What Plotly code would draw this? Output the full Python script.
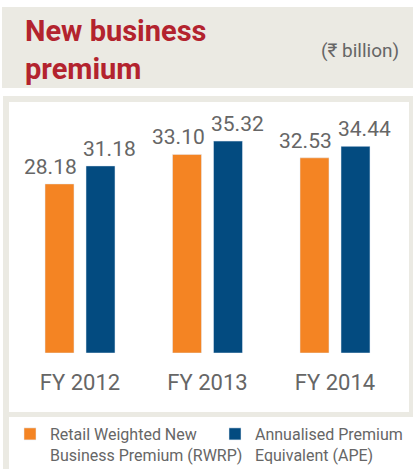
import plotly.graph_objects as go

# data
years = ["FY 2012", "FY 2013", "FY 2014"]
rwrp = [28.18, 33.10, 32.53]
ape = [31.18, 35.32, 34.44]
rwrp_name = "Retail Weighted New<br>Business Premium (RWRP)"
ape_name = "Annualised Premium<br>Equivalent (APE)"

W, H = 413, 469
FONT = "Roboto, sans-serif"
GREY_TXT = "#666666"
BAND = "#EBEAE3"

def px_x(p):
    return p / W

def px_y(p):
    return 1 - p / H

fig = go.Figure()
fig.add_trace(go.Bar(x=years, y=rwrp, name=rwrp_name, marker_color="#F48423"))
fig.add_trace(go.Bar(x=years, y=ape, name=ape_name, marker_color="#034B80"))

# value labels, pushed outward from group centre
for i, yr in enumerate(years):
    for val, shift in ((rwrp[i], -29.5), (ape[i], 29.5)):
        fig.add_annotation(x=yr, y=val, xref="x", yref="y", text=f"{val:.2f}",
                           showarrow=False, xshift=shift, yshift=3, yanchor="bottom",
                           font=dict(family=FONT, size=21, color=GREY_TXT))

# background panels
shapes = [
    dict(type="rect", xref="paper", yref="paper", x0=px_x(2), x1=1, y0=px_y(88), y1=px_y(7),
         fillcolor=BAND, line_width=0, layer="below"),
    dict(type="rect", xref="paper", yref="paper", x0=px_x(3), x1=1, y0=0, y1=px_y(96),
         fillcolor=BAND, line_width=0, layer="below"),
    dict(type="rect", xref="paper", yref="paper", x0=px_x(9), x1=px_x(409), y0=px_y(412), y1=px_y(102),
         fillcolor="white", line_width=0, layer="below"),
    dict(type="rect", xref="paper", yref="paper", x0=px_x(9), x1=1, y0=0, y1=px_y(417),
         fillcolor="white", line_width=0, layer="below"),
]

fig.add_annotation(x=px_x(23), y=px_y(12), xref="paper", yref="paper", xanchor="left", yanchor="top",
                   text="<b>New business<br>premium</b>", showarrow=False, align="left",
                   font=dict(family=FONT, size=29, color="#B3232E"))
fig.add_annotation(x=px_x(401), y=px_y(50), xref="paper", yref="paper", xanchor="right", yanchor="middle",
                   text="(₹ billion)", showarrow=False,
                   font=dict(family=FONT, size=19, color=GREY_TXT))

fig.update_layout(
    width=W, height=H,
    margin=dict(l=0, r=0, t=0, b=0, autoexpand=False),
    paper_bgcolor="white", plot_bgcolor="rgba(0,0,0,0)",
    barmode="group", bargap=0.357, bargroupgap=0.293,
    shapes=shapes,
    xaxis=dict(domain=[px_x(16.25), px_x(398.75)], showgrid=False, showline=False, zeroline=False,
               ticks="outside", ticklen=10, tickcolor="rgba(0,0,0,0)",
               tickfont=dict(family=FONT, size=22, color=GREY_TXT)),
    yaxis=dict(domain=[px_y(353), px_y(102)], range=[0, 251 / 6.0], visible=False),
    legend=dict(orientation="h", x=px_x(10), xanchor="left", y=px_y(417), yanchor="top",
                font=dict(family=FONT, size=16, color=GREY_TXT), bgcolor="rgba(0,0,0,0)",
                entrywidth=160, entrywidthmode="pixels", valign="top", traceorder="normal"),
    showlegend=True,
)

# drop the browser's default body margin so the figure sits at the page corner
fig.write_html("out.html", config={"displayModeBar": False},
               post_script="document.body.style.margin='0';")
